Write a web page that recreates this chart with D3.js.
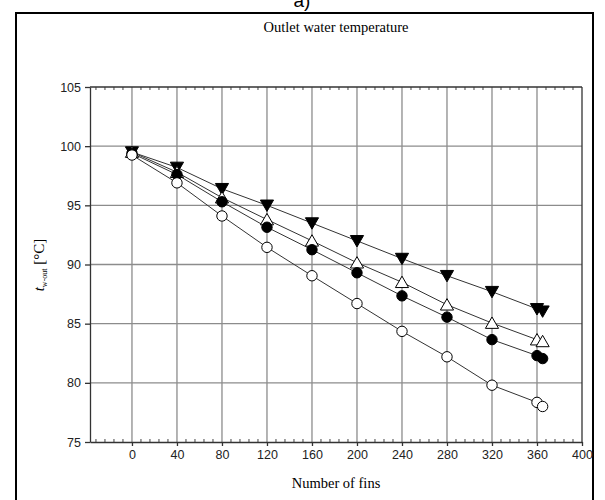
<!DOCTYPE html>
<html>
<head>
<meta charset="utf-8">
<script src="https://cdn.jsdelivr.net/npm/d3@7"></script>
<style>
body{margin:0;background:#fff;}
svg{display:block;}
</style>
</head>
<body>
<div class="chart"></div>
<script>
// number of fins
const fins = [0, 40, 80, 120, 160, 200, 240, 280, 320, 360, 365];
// outlet water temperature, one array per series
const tDownTri = [99.5, 98.2, 96.4, 95.0, 93.5, 92.0, 90.5, 89.05, 87.7, 86.25, 86.05];
const tOpenTri = [99.5, 97.8, 95.65, 93.8, 92.0, 90.15, 88.5, 86.6, 85.05, 83.65, 83.5];
const tFillCirc = [99.4, 97.6, 95.3, 93.15, 91.25, 89.3, 87.35, 85.55, 83.65, 82.3, 82.05];
const tOpenCirc = [99.25, 96.9, 94.1, 91.45, 89.05, 86.7, 84.35, 82.2, 79.8, 78.35, 78.0];

const xTicks = [0, 40, 80, 120, 160, 200, 240, 280, 320, 360, 400];
const yTicks = [75, 80, 85, 90, 95, 100, 105];

const series = [
    {name: 'down', values: tDownTri, shape: d3.symbolTriangle, rot: 180, fill: '#000'},
    {name: 'openTri', values: tOpenTri, shape: d3.symbolTriangle, rot: 0, fill: '#fff'},
    {name: 'fillCirc', values: tFillCirc, shape: d3.symbolCircle, rot: 0, fill: '#000'},
    {name: 'openCirc', values: tOpenCirc, shape: d3.symbolCircle, rot: 0, fill: '#fff'}
];

const W = 605, H = 500;
const margin = {top: 87, right: 23, bottom: 58, left: 90};
const w = W - margin.left - margin.right;
const h = H - margin.top - margin.bottom;

const svg = d3.select('.chart').append('svg').attr('width', W).attr('height', H);

// outer frame + "a)" (cut at the top, as in the source)
svg.append('rect').attr('x', 16).attr('y', 13).attr('width', 577).attr('height', 500)
   .attr('fill', 'none').attr('stroke', '#000').attr('stroke-width', 2);
svg.append('text').attr('x', 302).attr('y', 7).attr('text-anchor', 'middle')
   .style('font-family', 'Liberation Sans, Arial, sans-serif').style('font-size', '19px')
   .text('a)');

const g = svg.append('g').attr('transform', `translate(${margin.left},${margin.top})`);

const x = d3.scaleLinear().domain([-37.3, 400]).range([0, w]);
const y = d3.scaleLinear().domain([75, 105]).range([h, 0]);

// grid
g.append('g').selectAll('line').data(xTicks.slice(0, -1)).join('line')
  .attr('x1', d => x(d)).attr('x2', d => x(d)).attr('y1', 0).attr('y2', h)
  .attr('stroke', '#8c8c8c').attr('stroke-width', 1.3);
g.append('g').selectAll('line').data(yTicks.slice(1, -1)).join('line')
  .attr('x1', 0).attr('x2', w).attr('y1', d => y(d)).attr('y2', d => y(d))
  .attr('stroke', '#8c8c8c').attr('stroke-width', 1.3);

// minor ticks (every 8 fins) on top and bottom
const minor = d3.range(-32, 400, 8).filter(d => d % 40 !== 0);
g.append('g').selectAll('line').data(minor).join('line')
  .attr('x1', d => x(d)).attr('x2', d => x(d)).attr('y1', h).attr('y2', h - 3)
  .attr('stroke', '#444');
g.append('g').selectAll('line').data(minor).join('line')
  .attr('x1', d => x(d)).attr('x2', d => x(d)).attr('y1', 0).attr('y2', 3)
  .attr('stroke', '#444');

// axes
const xAxis = g.append('g').attr('transform', `translate(0,${h})`)
  .call(d3.axisBottom(x).tickValues(xTicks).tickSizeInner(4).tickSizeOuter(0).tickPadding(4));
const yAxis = g.append('g')
  .call(d3.axisLeft(y).tickValues(yTicks).tickSizeInner(5).tickSizeOuter(0).tickPadding(4));
[xAxis, yAxis].forEach(a => {
    a.select('.domain').attr('stroke', '#333').attr('stroke-width', 1.3);
    a.selectAll('.tick line').attr('stroke', '#333').attr('stroke-width', 1.3);
    a.selectAll('text').style('font-family', 'Liberation Sans, Arial, sans-serif')
     .style('font-size', '12.5px').attr('fill', '#222');
});
g.append('line').attr('x1', 0).attr('x2', w).attr('y1', 0).attr('y2', 0).attr('stroke', '#333').attr('stroke-width', 1.3);
g.append('line').attr('x1', w).attr('x2', w).attr('y1', 0).attr('y2', h).attr('stroke', '#333').attr('stroke-width', 1.3);

// lines and markers
const line = d3.line().x((d, i) => x(fins[i])).y(d => y(d));
series.forEach(s => {
    g.append('path').datum(s.values).attr('d', line)
     .attr('fill', 'none').attr('stroke', '#333').attr('stroke-width', 1);
});
series.forEach(s => {
    const size = s.shape === d3.symbolCircle ? 85 : 75;
    const dy = s.shape === d3.symbolTriangle ? (s.rot ? -1.5 : 1.5) : 0;
    g.append('g').selectAll('path').data(s.values).join('path')
     .attr('d', d3.symbol(s.shape, size))
     .attr('transform', (d, i) => `translate(${x(fins[i])},${y(d) + dy}) rotate(${s.rot})`)
     .attr('fill', s.fill).attr('stroke', '#000').attr('stroke-width', 1);
});

// titles
const serif = 'Liberation Serif, Times New Roman, serif';
svg.append('text').attr('x', 336).attr('y', 32).attr('text-anchor', 'middle')
   .style('font-family', serif).style('font-size', '14.5px').text('Outlet water temperature');
svg.append('text').attr('x', 336).attr('y', 488).attr('text-anchor', 'middle')
   .style('font-family', serif).style('font-size', '14.5px').text('Number of fins');

const yl = svg.append('text').attr('transform', 'translate(44,265) rotate(-90)')
   .attr('text-anchor', 'middle').style('font-family', serif).style('font-size', '15px');
yl.append('tspan').style('font-style', 'italic').text('t');
yl.append('tspan').attr('dy', 3).style('font-size', '8px').text('w-out');
yl.append('tspan').attr('dy', -3).text(' [°C]');
</script>
</body>
</html>
